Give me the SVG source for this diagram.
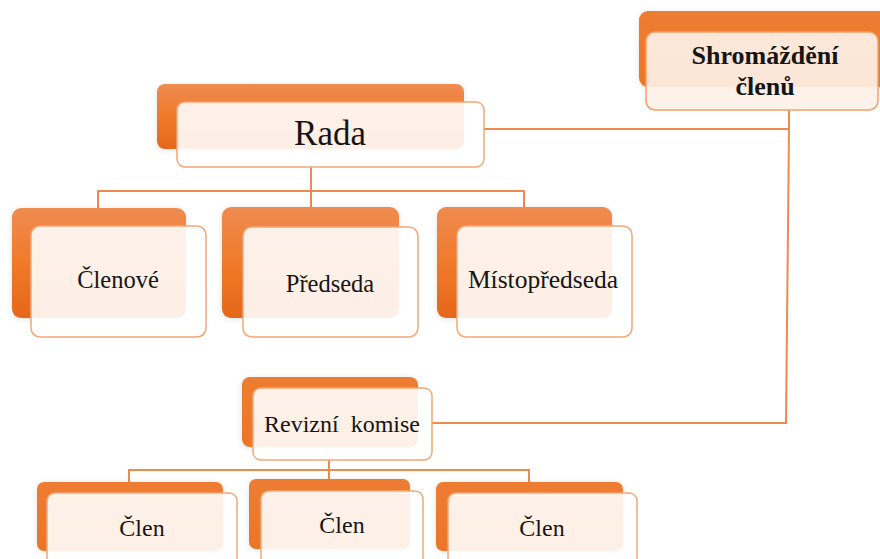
<svg xmlns="http://www.w3.org/2000/svg" width="880" height="559" viewBox="0 0 880 559">
<defs>
<linearGradient id="og" x1="0" y1="0" x2="0" y2="1">
<stop offset="0" stop-color="#ef8c52"/>
<stop offset="0.5" stop-color="#f07a2a"/>
<stop offset="1" stop-color="#e6671a"/>
</linearGradient>
<linearGradient id="og2" x1="0" y1="0" x2="0" y2="1">
<stop offset="0" stop-color="#ed7d31"/>
<stop offset="1" stop-color="#ec7628"/>
</linearGradient>
<filter id="sh" x="-10%" y="-10%" width="120%" height="130%">
<feGaussianBlur in="SourceAlpha" stdDeviation="3"/>
<feOffset dx="0" dy="1" result="b"/>
<feComponentTransfer><feFuncA type="linear" slope="0.12"/></feComponentTransfer>
<feMerge><feMergeNode/><feMergeNode in="SourceGraphic"/></feMerge>
</filter>
</defs>
<style>
.back{fill:url(#og);filter:url(#sh)}
.back2{fill:url(#og2);filter:url(#sh)}
.front{fill:#ffffff;fill-opacity:0.89;stroke:#f4a775;stroke-width:1.5}
.frontS{fill:#fdf0e7;fill-opacity:0.92;stroke:#f4a06a;stroke-width:1.5}
.t{font-family:"Liberation Serif","Times New Roman",serif;fill:#151515;text-anchor:middle}
.conn{fill:none;stroke:#ee8a4e;stroke-width:2}
</style>
<rect width="880" height="559" fill="#ffffff"/>
<g id="connectors">
<polyline class="conn" points="311,167 311,191"/>
<polyline class="conn" points="98,208 98,191 524,191 524,208"/>
<polyline class="conn" points="311,191 311,208"/>
<polyline class="conn" points="484,129 789,129"/>
<polyline class="conn" points="789,110 789,129 786,423 432,423"/>
<polyline class="conn" points="329,460 329,470"/>
<polyline class="conn" points="129,482 129,470 529,470 529,482"/>
<polyline class="conn" points="329,470 329,479"/>
</g>
<g id="shromazdeni">
<rect class="back2" x="639" y="11" width="260" height="76" rx="9"/>
<rect class="frontS" x="646" y="32" width="232" height="78" rx="9"/>
<text class="t" x="765" y="64" font-size="26" font-weight="bold">Shromáždění</text>
<text class="t" x="765" y="95" font-size="26" font-weight="bold">členů</text>
</g>
<g id="rada">
<rect class="back" x="157" y="84" width="307" height="65" rx="8"/>
<rect class="front" x="177" y="102" width="307" height="65" rx="8"/>
<text class="t" x="330" y="145" font-size="35">Rada</text>
</g>
<g id="clenove">
<rect class="back" x="12" y="208" width="174" height="110" rx="9"/>
<rect class="front" x="31" y="226" width="175" height="111" rx="9"/>
<text class="t" x="118" y="288" font-size="24.5">Členové</text>
</g>
<g id="predseda">
<rect class="back" x="222" y="207" width="177" height="111" rx="9"/>
<rect class="front" x="243" y="227" width="175" height="110" rx="9"/>
<text class="t" x="330" y="292" font-size="24.5">Předseda</text>
</g>
<g id="mistopredseda">
<rect class="back" x="437" y="207" width="175" height="111" rx="9"/>
<rect class="front" x="457" y="226" width="175" height="111" rx="9"/>
<text class="t" x="543" y="288" font-size="25.5">Místopředseda</text>
</g>
<g id="revizni">
<rect class="back2" x="242" y="377" width="176" height="70" rx="8"/>
<rect class="front" x="253" y="388" width="179" height="72" rx="8"/>
<text class="t" x="342" y="432" font-size="24" xml:space="preserve" style="white-space:pre">Revizní  komise</text>
</g>
<g id="clen1">
<rect class="back2" x="37" y="482" width="186" height="69" rx="7"/>
<rect class="front" x="47" y="493" width="190" height="80" rx="8"/>
<text class="t" x="142" y="536" font-size="24">Člen</text>
</g>
<g id="clen2">
<rect class="back2" x="249" y="479" width="161" height="70" rx="7"/>
<rect class="front" x="261" y="491" width="162" height="80" rx="8"/>
<text class="t" x="342" y="533" font-size="24">Člen</text>
</g>
<g id="clen3">
<rect class="back2" x="436" y="482" width="187" height="69" rx="7"/>
<rect class="front" x="448" y="493" width="189" height="80" rx="8"/>
<text class="t" x="542" y="536" font-size="24">Člen</text>
</g>
</svg>
